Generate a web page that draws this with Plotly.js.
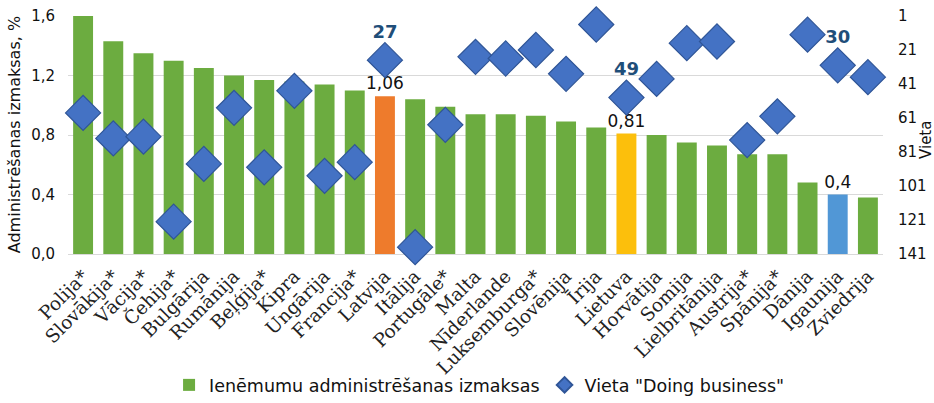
<!DOCTYPE html>
<html>
<head>
<meta charset="utf-8">
<script src="https://cdn.plot.ly/plotly-3.0.1.min.js"></script>
<style>
  html, body { margin: 0; padding: 0; background: #fff; }
  #chart { width: 934px; height: 403px; }
</style>
</head>
<body>
<div id="chart"></div>
<script>
// countries, sorted by cost of revenue administration
const countries = ['Polija*', 'Slovākija*', 'Vācija*', 'Čehija*', 'Bulgārija', 'Rumānija', 'Beļģija*',
  'Kipra', 'Ungārija', 'Francija*', 'Latvija', 'Itālija', 'Portugāle*', 'Malta', 'Nīderlande',
  'Luksemburga*', 'Slovēnija', 'Īrija', 'Lietuva', 'Horvātija', 'Somija', 'Lielbritānija',
  'Austrija*', 'Spānija*', 'Dānija', 'Igaunija', 'Zviedrija'];

// administration cost, %
const costs = [1.60, 1.43, 1.35, 1.30, 1.25, 1.20, 1.17, 1.16, 1.14, 1.10, 1.06, 1.04, 0.99, 0.94, 0.94,
  0.93, 0.89, 0.85, 0.81, 0.80, 0.75, 0.73, 0.67, 0.67, 0.48, 0.40, 0.38];

// "Doing business" rank
const ranks = [58, 73, 72, 122, 88, 55, 90, 45, 95, 87, 27, 137, 65, 25, 26, 21, 35, 6, 49, 38, 17, 16,
  74, 60, 12, 30, 37];

// Baltic states get their own colour and labels
const highlight = { 'Latvija': '#ee7b2c', 'Lietuva': '#fcbf0c', 'Igaunija': '#5197d6' };

const barColors = countries.map(c => highlight[c] || '#6cac40');
const barText = countries.map((c, i) => highlight[c] ? String(costs[i]).replace('.', ',') : '');
const rankText = countries.map((c, i) => highlight[c] ? String(ranks[i]) : '');

const barTrace = {
  type: 'bar',
  x: countries,
  y: costs,
  name: 'Ienēmumu administrēšanas izmaksas',
  marker: { color: barColors },
  text: barText,
  textposition: 'outside',
  constraintext: 'none',
  textfont: { family: 'DejaVu Sans, Verdana, sans-serif', size: 17, color: '#111' },
  cliponaxis: false
};

const rankTrace = {
  type: 'scatter',
  mode: 'markers+text',
  x: countries,
  y: ranks,
  yaxis: 'y2',
  name: 'Vieta "Doing business"',
  marker: { symbol: 'diamond', size: 27, color: '#4472c4', line: { color: '#2f5597', width: 1.2 } },
  text: rankText,
  textposition: 'top center',
  textfont: { family: 'DejaVu Sans, Verdana, sans-serif', size: 18, color: '#1f4e79', weight: 'bold' },
  cliponaxis: false
};

const layout = {
  width: 934,
  height: 403,
  margin: { l: 68, r: 51, t: 16, b: 149 },
  paper_bgcolor: '#fff',
  plot_bgcolor: '#fff',
  separators: ',.',
  bargap: 0.34,
  showlegend: true,
  font: { family: 'DejaVu Sans, Verdana, sans-serif', size: 15, color: '#111' },
  xaxis: {
    automargin: false,
    range: [-0.5, countries.length - 0.5],
    tickangle: -45,
    tickfont: { family: 'DejaVu Serif, Liberation Serif, serif', size: 18.5, color: '#222' },
    ticklabelstandoff: 7,
    showline: false,
    ticks: ''
  },
  yaxis: {
    automargin: false,
    range: [0, 1.6],
    tickvals: [0, 0.4, 0.8, 1.2, 1.6],
    tickformat: '.1f',
    gridcolor: '#d9d9d9',
    zeroline: true,
    zerolinecolor: '#d9d9d9',
    tickfont: { size: 15 },
    ticklabelstandoff: 12
  },
  yaxis2: {
    automargin: false,
    overlaying: 'y',
    side: 'right',
    range: [141, 1],
    tickvals: [1, 21, 41, 61, 81, 101, 121, 141],
    showgrid: false,
    zeroline: false,
    tickfont: { size: 15 },
    ticklabelstandoff: 14
  },
  annotations: [
    { xref: 'paper', yref: 'paper', x: -0.066, xanchor: 'center', y: 0.5, text: 'Administrēšanas izmaksas, %',
      textangle: -90, showarrow: false, font: { size: 16 } },
    { xref: 'paper', yref: 'paper', x: 1.053, xanchor: 'center', y: 0.48, text: 'Vieta',
      textangle: -90, showarrow: false, font: { size: 15 } }
  ],
  legend: {
    orientation: 'h',
    x: 0.124,
    xanchor: 'left',
    yref: 'container',
    y: 0,
    yanchor: 'bottom',
    bgcolor: 'rgba(0,0,0,0)',
    font: { size: 17.5 },
    itemsizing: 'constant'
  }
};

Plotly.newPlot('chart', [barTrace, rankTrace], layout, { displayModeBar: false, staticPlot: true });
</script>
</body>
</html>
